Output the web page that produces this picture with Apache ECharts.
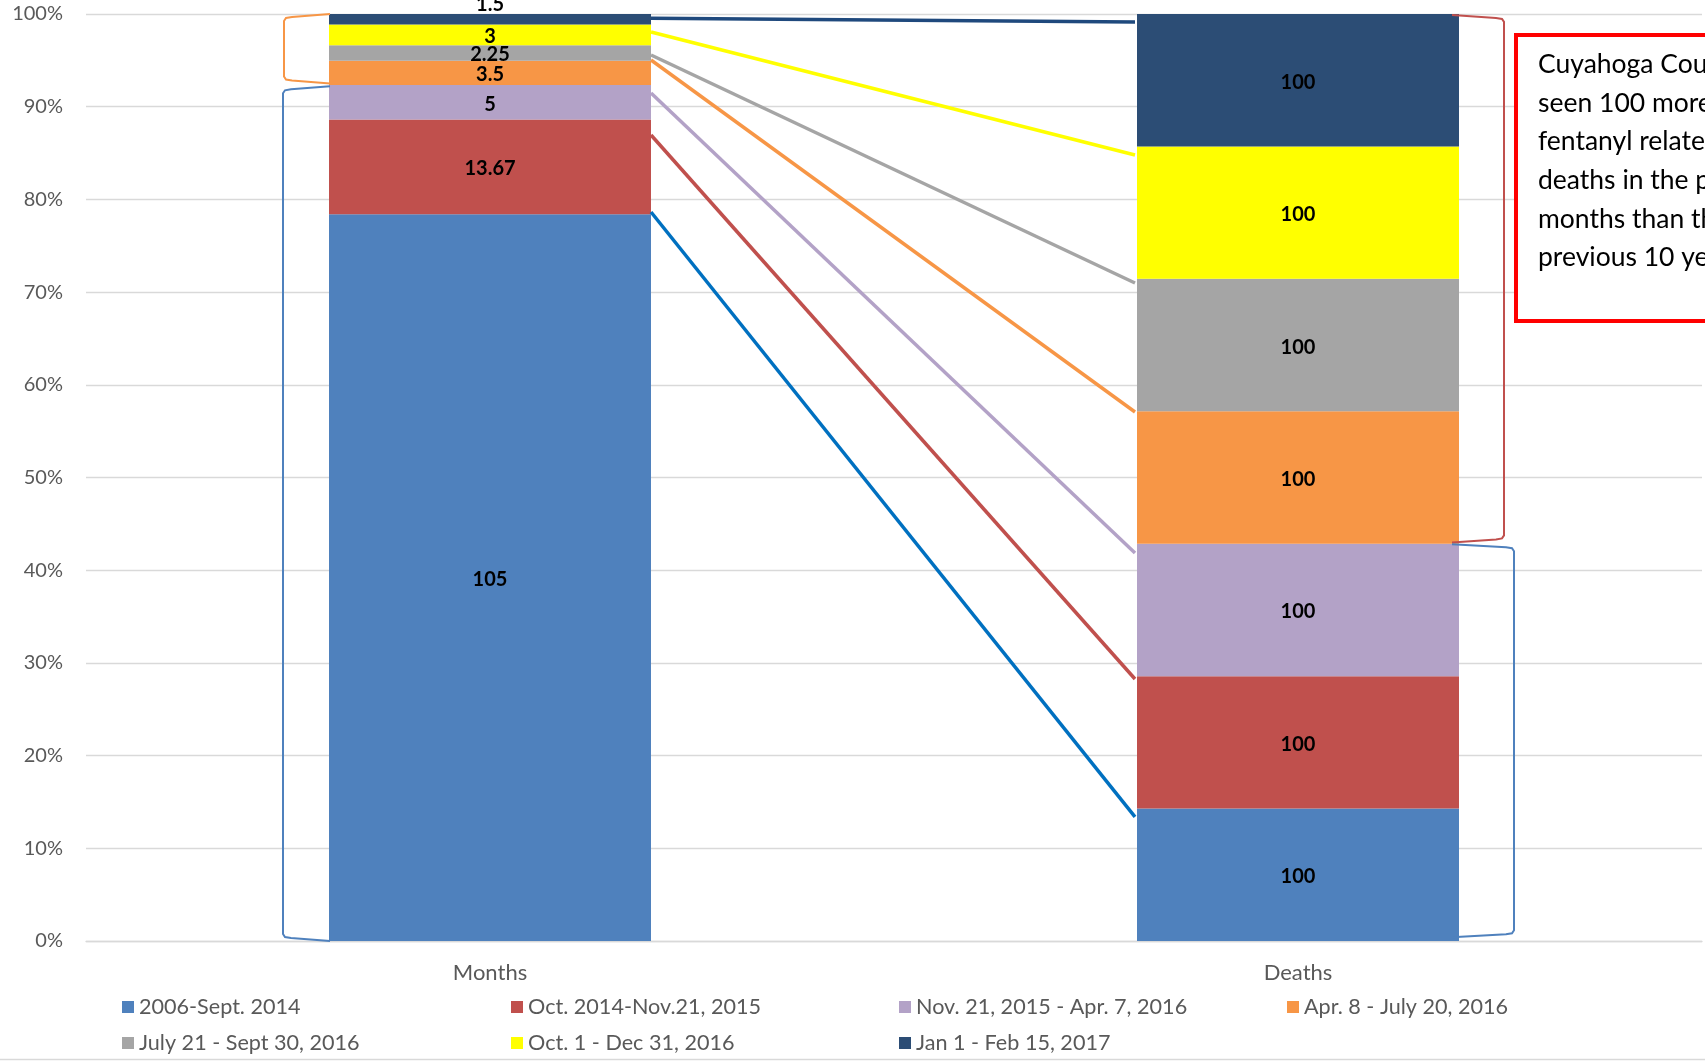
<!DOCTYPE html>
<html>
<head>
<meta charset="utf-8">
<script src="https://cdn.jsdelivr.net/npm/echarts@6/dist/echarts.min.js"></script>
<style>
html,body{margin:0;padding:0;background:#fff;}
#chart{width:1705px;height:1061px;}
</style>
</head>
<body>
<div id="chart"></div>
<script>
// ---- data ----
const categories = ['Months', 'Deaths'];
const seriesNames = [
  '2006-Sept. 2014',
  'Oct. 2014-Nov.21, 2015',
  'Nov. 21, 2015 - Apr. 7, 2016',
  'Apr. 8 - July 20, 2016',
  'July 21 - Sept 30, 2016',
  'Oct. 1 - Dec 31, 2016',
  'Jan 1 - Feb 15, 2017'
];
const monthsValues = [105, 13.67, 5, 3.5, 2.25, 3, 1.5];
const deathsValues = [100, 100, 100, 100, 100, 100, 100];
const yTickValues = [0, 10, 20, 30, 40, 50, 60, 70, 80, 90, 100];
// hand-drawn connector lines: level (%) at the Months bar edge and at the Deaths bar edge
const connectorMonths = [78.64, 86.95, 91.48, 95.04, 95.58, 98.06, 99.53];
const connectorDeaths = [13.38, 28.26, 41.86, 57.07, 70.98, 84.79, 99.14];
// brackets: [category index, from %, to %]
const bracketSpans = [[0, 0, 92.2], [0, 92.5, 100], [1, 43.0, 99.9], [1, 0.4, 42.8]];
const noteLines = [
  'Cuyahoga County has',
  'seen 100 more',
  'fentanyl related',
  'deaths in the past',
  'months than the',
  'previous 10 years'
];

// ---- styles ----
const barColors = ['#4F81BD', '#C0504D', '#B3A2C7', '#F79646', '#A5A5A5', '#FFFF00', '#2C4D75'];
const connColors = ['#0070C0', '#C0504D', '#B3A2C7', '#F79646', '#A5A5A5', '#FFFF00', '#1F497D'];
const bracketStyle = [
  {side: -1, off: 47, color: '#4F81BD'},
  {side: -1, off: 46, color: '#F79646'},
  {side: 1, off: 45, color: '#C0504D'},
  {side: 1, off: 55, color: '#4F81BD'}
];
const FONT = 'Lato';
const BAR_W = 322;

const sumOf = a => a.reduce((s, v) => s + v, 0);
const monthsTotal = sumOf(monthsValues);
const deathsTotal = sumOf(deathsValues);

const barSeries = seriesNames.map((name, i) => ({
  name: name,
  type: 'bar',
  stack: 'total',
  barWidth: BAR_W,
  itemStyle: {color: barColors[i]},
  label: {
    show: true,
    position: 'inside',
    color: '#000',
    fontFamily: FONT,
    fontWeight: 'bold',
    fontSize: 20,
    offset: [0, 2],
    formatter: p => String(p.dataIndex === 0 ? monthsValues[i] : deathsValues[i])
  },
  data: [
    i === seriesNames.length - 1
      ? {value: monthsValues[i] / monthsTotal * 100, label: {offset: [0, -15]}}
      : monthsValues[i] / monthsTotal * 100,
    deathsValues[i] / deathsTotal * 100
  ],
  z: 2
}));

const connectorSeries = {
  type: 'custom',
  name: 'connectors',
  silent: true,
  z: 4,
  encode: {x: 0, y: [1, 2]},
  data: connectorMonths.map((v, i) => [0, v, connectorDeaths[i]]),
  renderItem: function (params, api) {
    const i = params.dataIndex;
    const p1 = api.coord([0, api.value(1)]);
    const p2 = api.coord([1, api.value(2)]);
    return {
      type: 'line',
      shape: {x1: p1[0] + BAR_W / 2, y1: p1[1], x2: p2[0] - BAR_W / 2 - 2, y2: p2[1]},
      style: {stroke: connColors[i], lineWidth: 3.5, lineCap: 'butt'}
    };
  }
};

const bracketSeries = {
  type: 'custom',
  name: 'brackets',
  silent: true,
  z: 4,
  encode: {x: 0, y: [1, 2]},
  data: bracketSpans.map(s => [s[0], s[1], s[2]]),
  renderItem: function (params, api) {
    const st = bracketStyle[params.dataIndex];
    const cat = api.value(0);
    const lo = api.coord([cat, api.value(1)]);
    const hi = api.coord([cat, api.value(2)]);
    const cx = lo[0];
    const yTop = hi[1], yBot = lo[1];
    let edge, vx, s;
    if (st.side < 0) { edge = cx - BAR_W / 2 + 1; vx = edge - st.off; s = 1; }
    else { edge = cx + BAR_W / 2 - 7; vx = cx + BAR_W / 2 + st.off; s = -1; }
    const pts = [
      [edge, yTop], [vx + s * 8, yTop + 3], [vx + s * 2, yTop + 4], [vx, yTop + 7],
      [vx, yBot - 7], [vx + s * 2, yBot - 4], [vx + s * 8, yBot - 3], [edge, yBot]
    ];
    return {
      type: 'polyline',
      shape: {points: pts},
      style: {stroke: st.color, lineWidth: 2, fill: null}
    };
  }
};

const legendCols = [[0, 4], [1, 5], [2, 6], [3]];
const legendLeft = [122, 511, 899, 1287];
const legends = legendCols.map((col, k) => ({
  orient: 'vertical',
  left: legendLeft[k],
  top: 996,
  padding: 0,
  itemGap: 14,
  itemWidth: 12,
  itemHeight: 12,
  icon: 'rect',
  selectedMode: false,
  textStyle: {fontFamily: FONT, fontSize: 21.6, color: '#595959', lineHeight: 22},
  data: col.map(j => seriesNames[j])
}));

const chart = echarts.init(document.getElementById('chart'), null, {renderer: 'canvas'});
chart.setOption({
  backgroundColor: '#fff',
  animation: false,
  grid: {left: 86, right: 3, top: 14, bottom: 120, containLabel: false},
  xAxis: {
    type: 'category',
    data: categories,
    axisTick: {show: false},
    axisLine: {lineStyle: {color: '#D9D9D9', width: 1.3}},
    axisLabel: {fontFamily: FONT, fontSize: 22, color: '#595959', margin: 21}
  },
  yAxis: {
    type: 'value',
    min: yTickValues[0],
    max: yTickValues[yTickValues.length - 1],
    interval: yTickValues[1] - yTickValues[0],
    axisLine: {show: false},
    axisTick: {show: false},
    axisLabel: {fontFamily: FONT, fontSize: 20, color: '#595959', margin: 23, formatter: '{value}%'},
    splitLine: {lineStyle: {color: '#D9D9D9', width: 1.3}}
  },
  legend: legends,
  series: barSeries.concat([connectorSeries, bracketSeries]),
  graphic: [
    {
      type: 'rect', z: 100,
      shape: {x: 1516, y: 35, width: 400, height: 286},
      style: {fill: '#fff', stroke: '#FF0000', lineWidth: 4}
    },
    {
      type: 'text', z: 101, x: 1538, y: 45,
      style: {text: noteLines.join('\n'), fontFamily: FONT, fontSize: 26.5, fill: '#000', lineHeight: 38.7}
    },
    {
      type: 'line', z: 100,
      shape: {x1: 0, y1: 1059.5, x2: 1705, y2: 1059.5},
      style: {stroke: '#D9D9D9', lineWidth: 1.5}
    }
  ]
});
</script>
</body>
</html>
